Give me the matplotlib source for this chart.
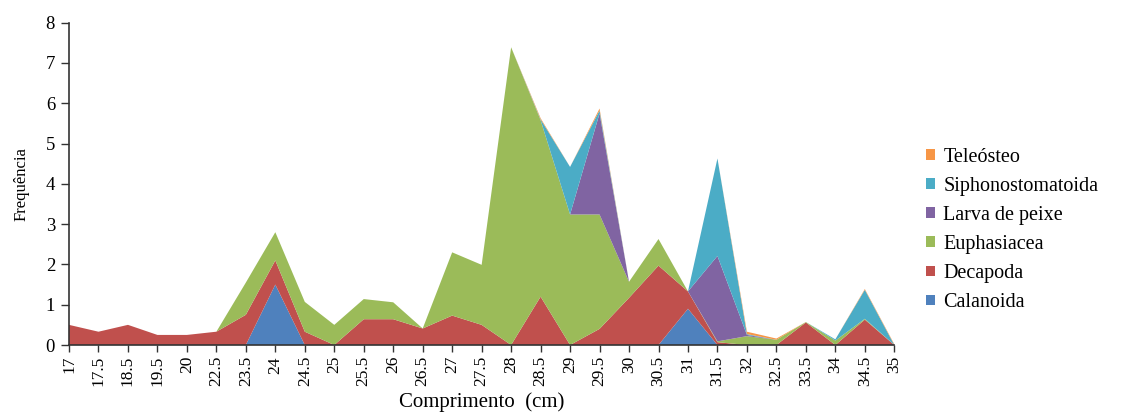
import numpy as np
import matplotlib
matplotlib.use("Agg")
import matplotlib.pyplot as plt
from matplotlib.patches import Patch

# Body length classes (cm)
comprimento = ["17", "17.5", "18.5", "19.5", "20", "22.5", "23.5", "24", "24.5", "25",
               "25.5", "26", "26.5", "27", "27.5", "28", "28.5", "29", "29.5", "30",
               "30.5", "31", "31.5", "32", "32.5", "33.5", "34", "34.5", "35"]

# Frequency of each prey group per length class (stacked, bottom to top)
calanoida = [0, 0, 0, 0, 0, 0, 0, 1.5, 0, 0,
             0, 0, 0, 0, 0, 0, 0, 0, 0, 0,
             0, 0.9, 0, 0, 0, 0, 0, 0, 0]
decapoda = [0.5, 0.33, 0.5, 0.25, 0.25, 0.33, 0.75, 0.6, 0.33, 0,
            0.64, 0.64, 0.41, 0.73, 0.5, 0, 1.2, 0, 0.4, 1.17,
            1.97, 0.43, 0.07, 0, 0, 0.56, 0, 0.63, 0]
euphasiacea = [0, 0, 0, 0, 0, 0, 0.8, 0.7, 0.74, 0.5,
               0.5, 0.42, 0, 1.57, 1.49, 7.39, 4.38, 3.24, 2.84, 0.4,
               0.66, 0, 0.02, 0.22, 0.13, 0.01, 0.11, 0.02, 0]
larva_peixe = [0, 0, 0, 0, 0, 0, 0, 0, 0, 0,
               0, 0, 0, 0, 0, 0, 0, 0, 2.51, 0,
               0, 0, 2.12, 0.03, 0, 0, 0, 0, 0]
siphonostomatoida = [0, 0, 0, 0, 0, 0, 0, 0, 0, 0,
                     0, 0, 0, 0, 0, 0, 0.02, 1.18, 0.07, 0,
                     0, 0, 2.42, 0.02, 0, 0, 0.03, 0.72, 0]
teleosteo = [0, 0, 0, 0, 0, 0, 0, 0, 0, 0,
             0, 0, 0, 0, 0, 0, 0.03, 0, 0.05, 0,
             0, 0, 0, 0.06, 0.03, 0, 0, 0.02, 0.02]

series = ["Calanoida", "Decapoda", "Euphasiacea", "Larva de peixe",
          "Siphonostomatoida", "Teleósteo"]
colors = ["#4F81BD", "#C0504D", "#9BBB59", "#8064A2", "#4BACC6", "#F79646"]

plt.rcParams["font.family"] = ["Liberation Serif", "DejaVu Serif"]

fig = plt.figure(figsize=(11.29, 4.15), dpi=100)
ax = fig.add_axes([69 / 1129, 1 - 345 / 415, (894.3 - 69) / 1129, (345 - 22.7) / 415])

x = np.arange(len(comprimento))
ax.stackplot(x, calanoida, decapoda, euphasiacea, larva_peixe,
             siphonostomatoida, teleosteo, colors=colors, linewidth=0)

ax.set_xlim(0, len(comprimento) - 1)
ax.set_ylim(0, 8)
ax.set_xticks(x)
ax.set_xticklabels(comprimento, rotation=90, fontsize=12.5)
ax.set_yticks(range(0, 9))
ax.tick_params(axis="y", labelsize=13.5, direction="out", length=6, width=1, color="#333333", pad=4)
ax.tick_params(axis="x", direction="out", length=5, width=1, color="#333333", pad=3)

for side in ("top", "right"):
    ax.spines[side].set_visible(False)
for side in ("left", "bottom"):
    ax.spines[side].set_color("#333333")
    ax.spines[side].set_linewidth(1.2)

ax.set_ylabel("Frequência", fontsize=12, labelpad=12)
ax.set_xlabel("Comprimento  (cm)", fontsize=15, labelpad=4)

handles = [Patch(facecolor=c, edgecolor="none") for c in colors]
leg = fig.legend(handles[::-1], series[::-1], loc="center left",
                 bbox_to_anchor=(908 / 1129, 1 - 230 / 415),
                 frameon=False, fontsize=14.5, handlelength=0.45, handleheight=0.45,
                 handletextpad=0.4, labelspacing=0.5, borderpad=0.4)

fig.savefig("out.png", dpi=100)
